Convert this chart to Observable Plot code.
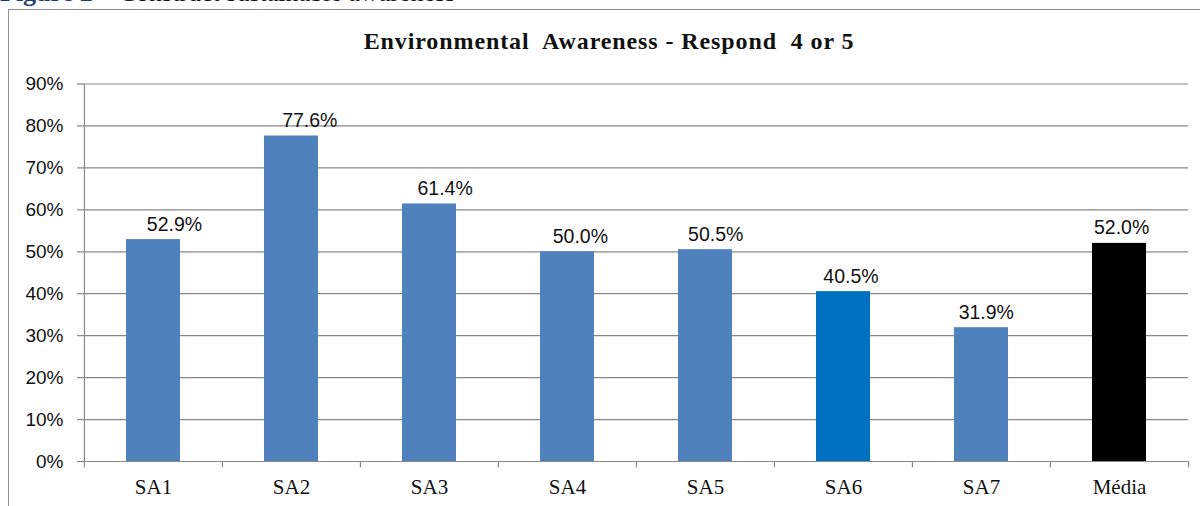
<!DOCTYPE html>
<html>
<head>
<meta charset="utf-8">
<script src="https://cdn.jsdelivr.net/npm/d3@7"></script>
<script src="https://cdn.jsdelivr.net/npm/@observablehq/plot@0.6"></script>
<style>
  html, body { margin: 0; padding: 0; background: #fff; }
  #page { position: relative; width: 1200px; height: 506px; overflow: hidden; background: #fff; }
  #caption { position: absolute; left: 0; top: -20px; font-family: "Liberation Serif", "Times New Roman", serif; font-size: 26px; line-height: 1; white-space: nowrap; color: #111; }
  #caption b { color: #1f3b6e; }
  #box { position: absolute; left: 8px; top: 9px; width: 1300px; height: 700px; border: 1px solid #8f8f8f; }
  #title { position: absolute; left: 0; width: 1218px; top: 29px; text-align: center; font-family: "Liberation Serif", "Times New Roman", serif; font-weight: bold; font-size: 24px; letter-spacing: 0.9px; line-height: 1; color: #111; white-space: pre; }
  #chart { position: absolute; left: 0; top: 70px; }
</style>
</head>
<body>
<div id="page">
  <div id="caption"><b>Figure 2</b> – Construct sustainable awareness</div>
  <div id="box"></div>
  <div id="title">Environmental  Awareness - Respond  4 or 5</div>
  <div id="chart"></div>
</div>
<script>
// Share of respondents answering 4 or 5, per item
const categories = ["SA1", "SA2", "SA3", "SA4", "SA5", "SA6", "SA7", "Média"];
const values = [0.529, 0.776, 0.614, 0.500, 0.505, 0.405, 0.319, 0.520];
const yTicks = [0, 0.1, 0.2, 0.3, 0.4, 0.5, 0.6, 0.7, 0.8, 0.9];

// Bar fills
const defaultBlue = "#4f81bd";
const highlight = { "SA6": "#0070c0", "Média": "#000000" };
const gridColor = "#898989";

const rows = categories.map((c, i) => ({ category: c, value: values[i] }));

const width = 1200, height = 436;
const marginLeft = 83, marginRight = 12, marginTop = 13.5, marginBottom = 45;
const step = (width - marginLeft - marginRight) / categories.length;

const sans = "Liberation Sans, Arial, sans-serif";
const serif = "Liberation Serif, Times New Roman, serif";

// Value labels sit a little right of each bar, drifting toward centre across the chart
const valueLabels = rows.map((r, i) => Plot.text([r], {
  x: "category", y: "value", text: d => d3.format(".1%")(d.value),
  lineAnchor: "bottom", dy: -9, dx: 21 - 2.7 * i,
  fontFamily: sans, fontSize: 19.5, letterSpacing: "1.6px", fill: "#111"
}));

const chart = Plot.plot({
  width, height, marginLeft, marginRight, marginTop, marginBottom,
  style: { background: "transparent", color: "#111" },
  x: { domain: categories, paddingInner: 0.61, paddingOuter: 0.305, label: null },
  y: { domain: [0, 0.9], label: null },
  marks: [
    Plot.gridY(yTicks, { stroke: gridColor, strokeOpacity: 1, strokeWidth: 1.2 }),
    // left axis line
    Plot.ruleX([categories[0]], { dx: -step / 2, y1: 0, y2: 0.9, stroke: gridColor, strokeWidth: 1.2 }),
    // category boundary ticks below the baseline
    Plot.ruleX(categories, { dx: -step / 2, y1: -0.015, y2: 0, stroke: gridColor, strokeWidth: 1.2 }),
    Plot.ruleX([categories[categories.length - 1]], { dx: step / 2, y1: -0.015, y2: 0, stroke: gridColor, strokeWidth: 1.2 }),
    Plot.barY(rows, { x: "category", y: "value", fill: d => highlight[d.category] || defaultBlue }),
    ...valueLabels,
    Plot.axisY(yTicks, { tickSize: 6, text: null, stroke: gridColor, strokeWidth: 1.2 }),
    Plot.axisY(yTicks, {
      tickSize: 0, tickPadding: 20, tickFormat: d3.format(".0%"),
      fontFamily: sans, fontSize: 19, letterSpacing: "0.5px", fill: "#111"
    }),
    Plot.axisX({
      tickSize: 0, tickPadding: 18,
      fontFamily: serif, fontSize: 21, letterSpacing: "1px", fill: "#111"
    })
  ]
});
document.getElementById("chart").appendChild(chart);
</script>
</body>
</html>
